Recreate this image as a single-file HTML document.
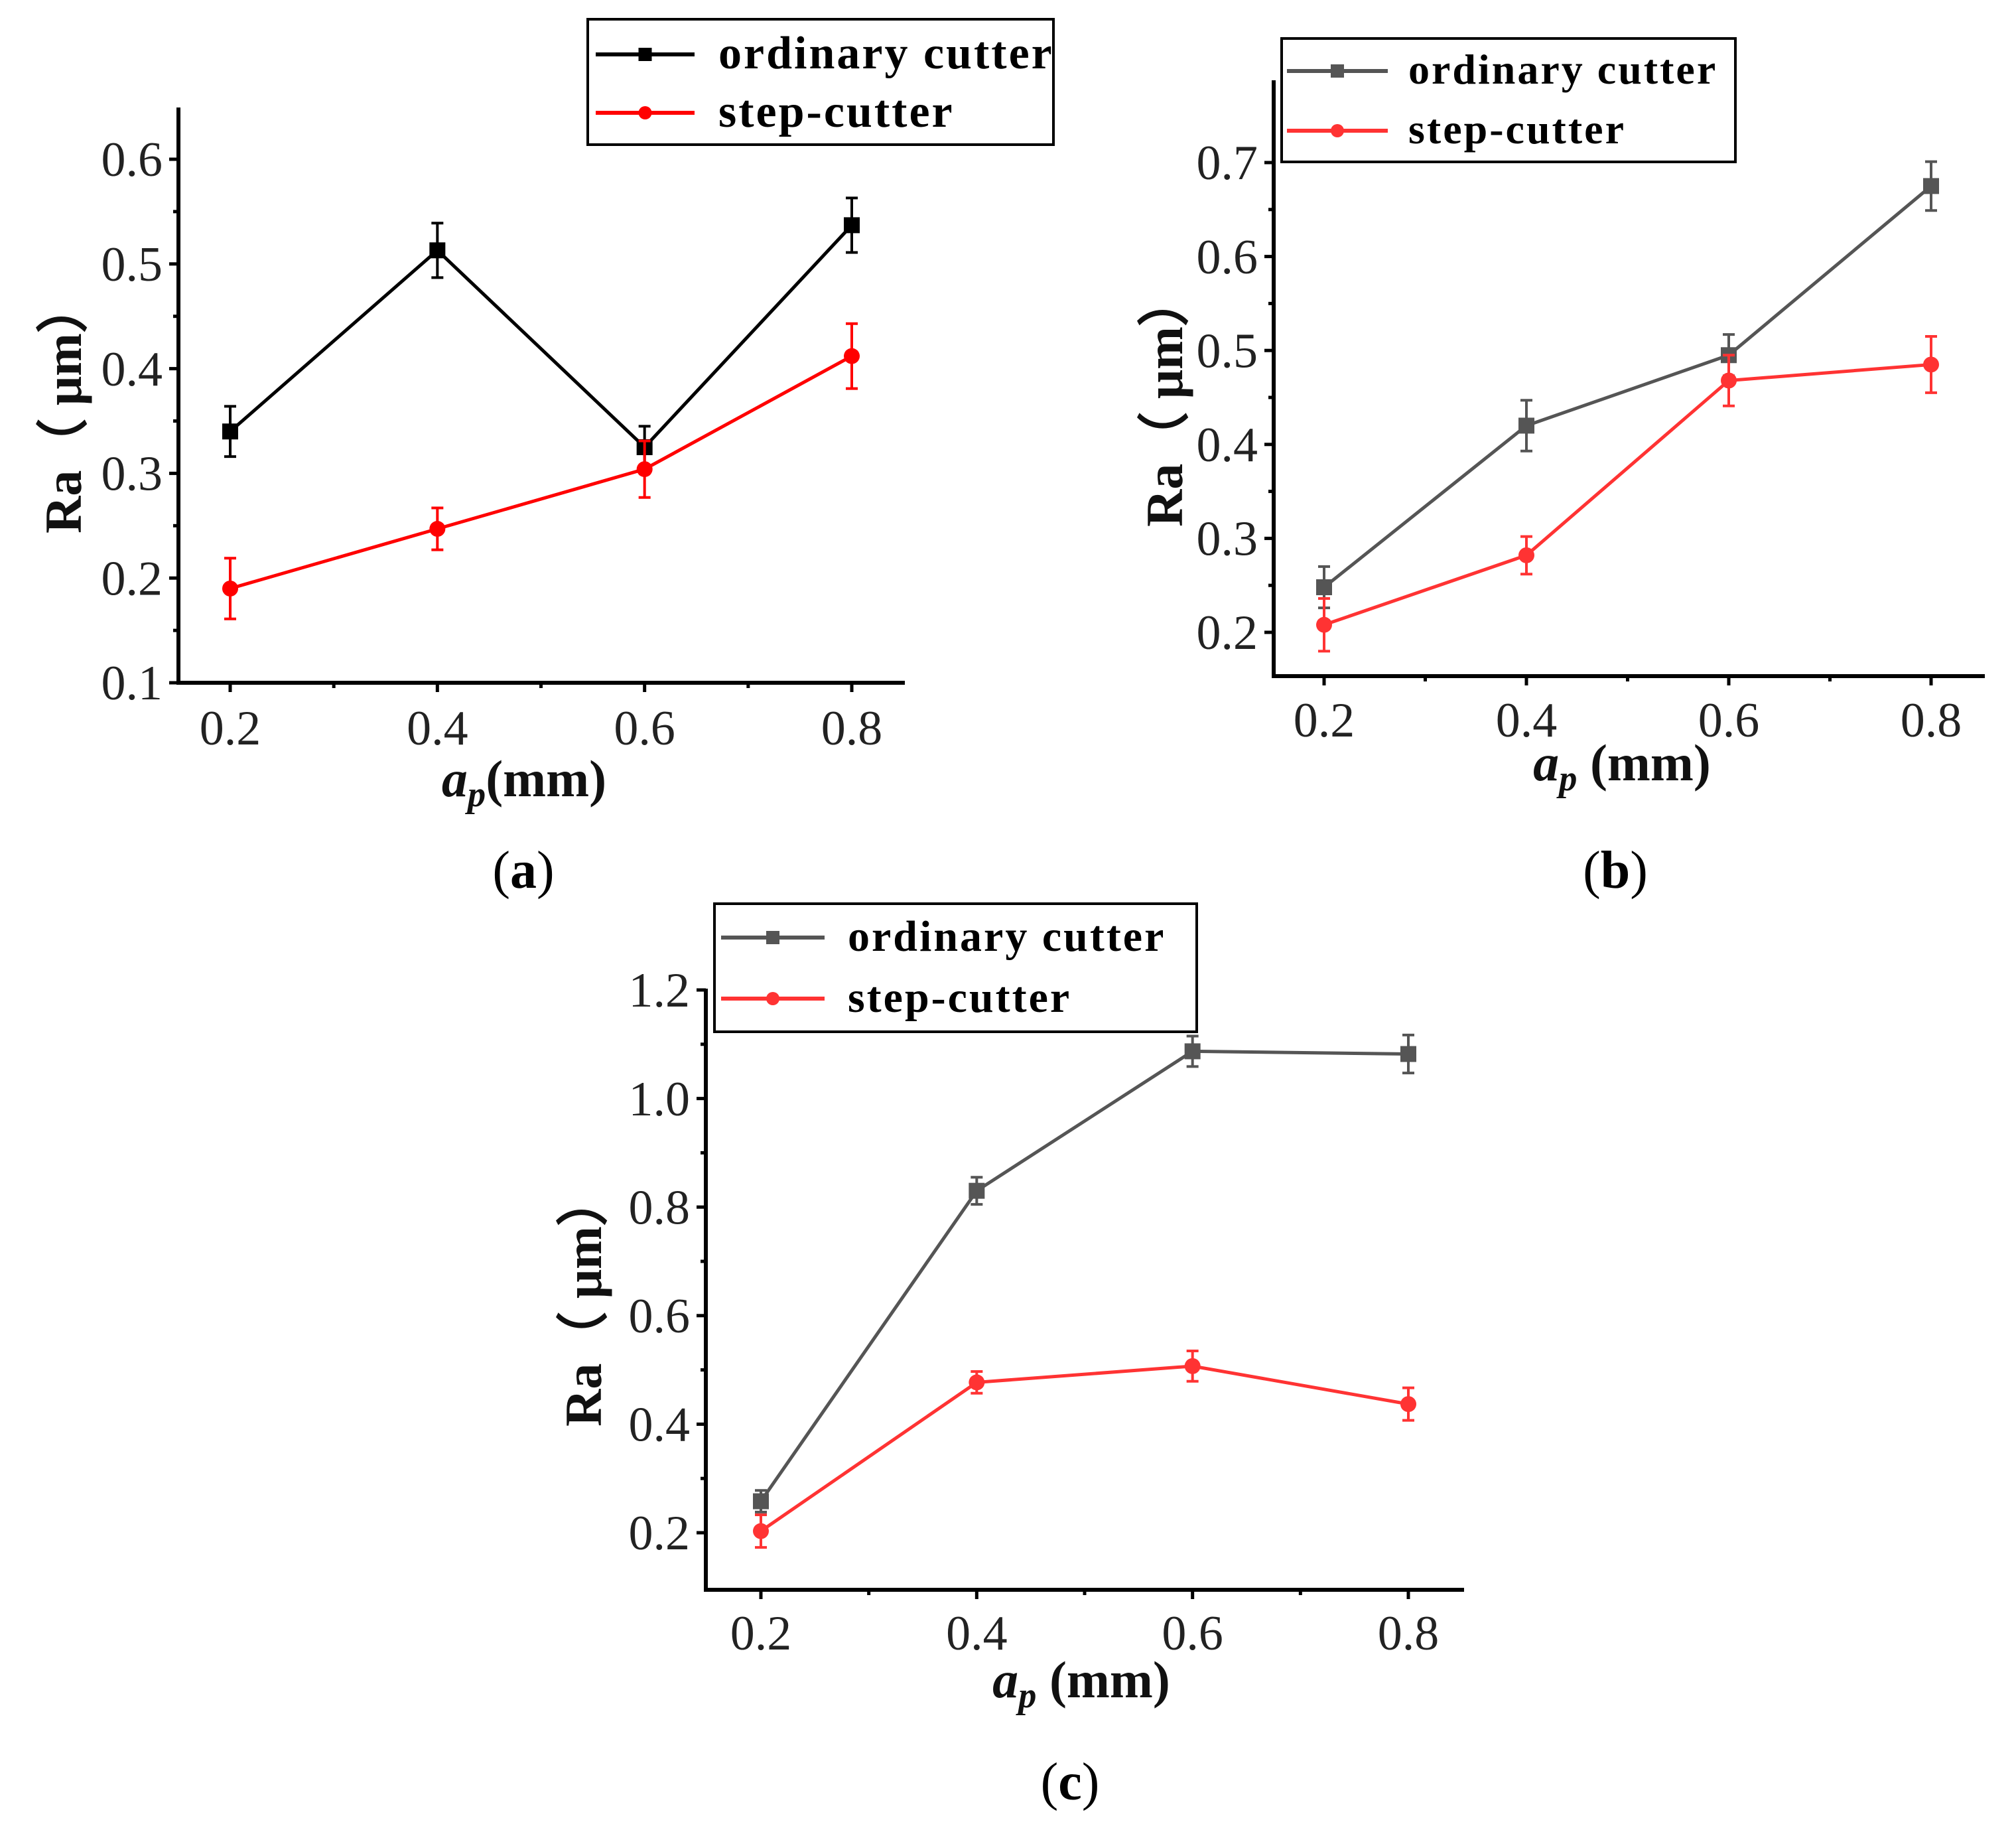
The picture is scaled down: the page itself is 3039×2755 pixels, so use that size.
<!DOCTYPE html>
<html><head><meta charset="utf-8"><style>
html,body{margin:0;padding:0;background:#fff;}
svg{display:block;}
text{font-family:"Liberation Serif",serif;}
</style></head><body>
<svg id="fig" width="3039" height="2755" viewBox="0 0 3039 2755" xmlns="http://www.w3.org/2000/svg"></svg>
<script>
const categories = [0.2, 0.4, 0.6, 0.8];
const xTickLabels = ["0.2","0.4","0.6","0.8"];
const aOrdinary = [0.34, 0.513, 0.325, 0.537];
const aOrdinaryErr = [0.024, 0.026, 0.02, 0.026];
const aStep = [0.19, 0.247, 0.304, 0.412];
const aStepErr = [0.029, 0.02, 0.027, 0.031];
const aYTicks = [0.1, 0.2, 0.3, 0.4, 0.5, 0.6];
const bOrdinary = [0.248, 0.42, 0.495, 0.675];
const bOrdinaryErr = [0.022, 0.027, 0.022, 0.026];
const bStep = [0.208, 0.282, 0.468, 0.485];
const bStepErr = [0.028, 0.02, 0.027, 0.03];
const bYTicks = [0.2, 0.3, 0.4, 0.5, 0.6, 0.7];
const cOrdinary = [0.258, 0.83, 1.087, 1.082];
const cOrdinaryErr = [0.02, 0.025, 0.028, 0.035];
const cStep = [0.203, 0.477, 0.507, 0.437];
const cStepErr = [0.03, 0.02, 0.028, 0.03];
const cYTicks = [0.2, 0.4, 0.6, 0.8, 1.0, 1.2];
const seriesNames = ["ordinary cutter", "step-cutter"];

const NS = "http://www.w3.org/2000/svg";
const svg = document.getElementById("fig");
function mk(tag, attrs, parent){
  const e = document.createElementNS(NS, tag);
  for (const k in attrs) e.setAttribute(k, attrs[k]);
  (parent||svg).appendChild(e);
  return e;
}

function chart(cfg){
  const g = mk("g", {});
  
  
  const xs = v => cfg.x0px + (v - 0.2) / 0.6 * (cfg.x1px - cfg.x0px);
  const ys = v => cfg.y0px - (v - cfg.y0v) / (cfg.y1v - cfg.y0v) * (cfg.y0px - cfg.y1px);
  const fs = cfg.fs;
  const ya = mk("line", {x1:cfg.ax, y1:cfg.ayTop, x2:cfg.ax, y2:cfg.ay+3, stroke:"#000","stroke-width":6}, g);
  
  
  const xa = mk("line", {x1:cfg.ax-3, y1:cfg.ay, x2:cfg.axRight, y2:cfg.ay, stroke:"#000","stroke-width":6}, g);
  
  
  const yt = cfg.yTicks;
  yt.forEach((v, i) => {
    const y = ys(v);
    mk("line", {x1:cfg.ax-14, y1:y, x2:cfg.ax, y2:y, stroke:"#000","stroke-width":5}, g);
    const t = mk("text", {x:cfg.ax-24, y:y+fs*0.34, "font-size":fs, "text-anchor":"end", fill:"#222"}, g);
    t.textContent = cfg.yLabels ? cfg.yLabels[i] : v.toFixed(1);
    
    
    if (i < yt.length - 1) {
      const m = ys((v + yt[i+1]) / 2);
      mk("line", {x1:cfg.ax-8, y1:m, x2:cfg.ax, y2:m, stroke:"#000","stroke-width":5}, g);
    }
  });
  categories.forEach((v, i) => {
    const x = xs(v);
    mk("line", {x1:x, y1:cfg.ay, x2:x, y2:cfg.ay+14, stroke:"#000","stroke-width":5}, g);
    const t = mk("text", {x:x, y:cfg.xLabelY, "font-size":fs, "text-anchor":"middle", fill:"#222"}, g);
    t.textContent = xTickLabels[i];
    
    
    if (i < categories.length - 1) {
      const m = xs(v + 0.1);
      mk("line", {x1:m, y1:cfg.ay, x2:m, y2:cfg.ay+8, stroke:"#000","stroke-width":5}, g);
    }
  });
  const xt = mk("text", {x:cfg.xTitleX, y:cfg.xTitleY, "font-size":cfg.tfs, "font-weight":"bold", "text-anchor":"middle", fill:"#111"}, g);
  xt.innerHTML = '<tspan font-style="italic">a</tspan><tspan font-style="italic" font-size="' + (cfg.tfs*0.7) + '" dy="' + (cfg.tfs*0.2) + '">p</tspan><tspan dy="' + (-cfg.tfs*0.2) + '">' + cfg.xTitleSuffix + '</tspan>';
  
  
  const ytl = mk("text", {x:0, y:0, "font-size":cfg.tfs, "font-weight":"bold", "text-anchor":"middle", fill:"#111", transform:"translate(" + cfg.yTitleX + "," + cfg.yTitleY + ") rotate(-90)"}, g);
  ytl.setAttribute("font-family", '"Liberation Serif","Noto Serif CJK SC",serif');
  ytl.textContent = "Ra（ μm）";
  
  
  const series = [
    {vals: cfg.ord, err: cfg.ordErr, color: cfg.ordColor, marker: "square", name: "ordinary"},
    {vals: cfg.step, err: cfg.stepErr, color: cfg.stepColor, marker: "circle", name: "step"}
  ];
  series.forEach(s => {
    const pts = categories.map((c, i) => xs(c) + "," + ys(s.vals[i])).join(" ");
    const pl = mk("polyline", {points:pts, fill:"none", stroke:s.color, "stroke-width":5}, g);
    
    
    categories.forEach((c, i) => {
      const x = xs(c), y = ys(s.vals[i]);
      const y1 = ys(s.vals[i] + s.err[i]), y2 = ys(s.vals[i] - s.err[i]);
      const eb = mk("path", {d:"M"+x+","+y1+"V"+y2+"M"+(x-9)+","+y1+"H"+(x+9)+"M"+(x-9)+","+y2+"H"+(x+9), stroke:s.color, "stroke-width":4, fill:"none"}, g);
      
      
      let m;
      if (s.marker === "square") m = mk("rect", {x:x-12, y:y-12, width:24, height:24, fill:s.color}, g);
      else m = mk("circle", {cx:x, cy:y, r:12, fill:s.color}, g);
      
      
    });
  });
  const L = cfg.leg;
  const lg = mk("g", {}, g);
  
  
  mk("rect", {x:L.x, y:L.y, width:L.w, height:L.h, fill:"#fff", stroke:"#000", "stroke-width":4}, lg);
  [[cfg.ordColor,"square",L.y1,seriesNames[0]],[cfg.stepColor,"circle",L.y2,seriesNames[1]]].forEach(e => {
    mk("line", {x1:L.lx1, y1:e[2], x2:L.lx2, y2:e[2], stroke:e[0], "stroke-width":6}, lg);
    const mx = (L.lx1 + L.lx2) / 2;
    if (e[1] === "square") mk("rect", {x:mx-10, y:e[2]-10, width:20, height:20, fill:e[0]}, lg);
    else mk("circle", {cx:mx, cy:e[2], r:10, fill:e[0]}, lg);
    const t = mk("text", {x:L.tx, y:e[2]+L.fs*0.3, "font-size":L.fs, "font-weight":"bold", fill:"#000", "letter-spacing":3}, lg);
    t.textContent = e[3];
    
    
  });
  const pl = mk("text", {x:cfg.panelX, y:cfg.panelY, "font-size":80, "text-anchor":"middle", fill:"#000"}, g);
  pl.innerHTML = '(<tspan font-weight="bold">' + cfg.id + '</tspan>)';
  
  
}

chart({id:"a", ax:269, ay:1029, ayTop:162, axRight:1364,
  x0px:347, x1px:1284, y0v:0.1, y1v:0.6, y0px:1029, y1px:240,
  yTicks:aYTicks, fs:74, tfs:78, xLabelY:1122, xTitleX:790, xTitleY:1200, xTitleSuffix:"(mm)",
  yTitleX:122, yTitleY:614,
  ord:aOrdinary, ordErr:aOrdinaryErr, step:aStep, stepErr:aStepErr, ordColor:"#000", stepColor:"#f00",
  leg:{x:886,y:29,w:702,h:189,lx1:898,lx2:1047,y1:82,y2:170,tx:1083,fs:70},
  panelX:789, panelY:1338});
chart({id:"b", ax:1920, ay:1019, ayTop:121, axRight:2992,
  x0px:1996, x1px:2911, y0v:0.2, y1v:0.7, y0px:953, y1px:245,
  yTicks:bYTicks, fs:74, tfs:78, xLabelY:1110, xTitleX:2445, xTitleY:1176, xTitleSuffix:" (mm)",
  yTitleX:1782, yTitleY:604,
  ord:bOrdinary, ordErr:bOrdinaryErr, step:bStep, stepErr:bStepErr, ordColor:"#555", stepColor:"#f33",
  leg:{x:1932,y:58,w:684,h:186,lx1:1940,lx2:2092,y1:107,y2:197,tx:2123,fs:64},
  panelX:2435, panelY:1338});
chart({id:"c", ax:1064, ay:2396, ayTop:1490, axRight:2207,
  x0px:1147, x1px:2123, y0v:0.2, y1v:1.2, y0px:2310, y1px:1492,
  yTicks:cYTicks, yLabels:["0.2","0.4","0.6","0.8","1.0","1.2"], fs:74, tfs:78, xLabelY:2486, xTitleX:1630, xTitleY:2558, xTitleSuffix:" (mm)",
  yTitleX:906, yTitleY:1960,
  ord:cOrdinary, ordErr:cOrdinaryErr, step:cStep, stepErr:cStepErr, ordColor:"#555", stepColor:"#f33",
  leg:{x:1077,y:1362,w:727,h:193,lx1:1087,lx2:1243,y1:1413,y2:1505,tx:1278,fs:66},
  panelX:1613, panelY:2712});
</script>
</body></html>
